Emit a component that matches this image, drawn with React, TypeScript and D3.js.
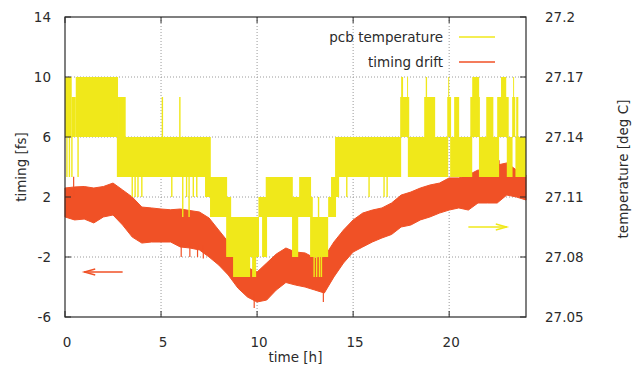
import React from "react";
import * as d3 from "d3";

// timing drift band (fs): lower / upper edge read every half hour
const driftHours = [
  0, 0.5, 1, 1.5, 2, 2.5, 3, 3.5, 4, 4.5, 5, 5.5, 6, 6.5, 7, 7.5, 8, 8.5, 9,
  9.5, 10, 10.5, 11, 11.5, 12, 12.5, 13, 13.5, 14, 14.5, 15, 15.5, 16, 16.5,
  17, 17.5, 18, 18.5, 19, 19.5, 20, 20.5, 21, 21.5, 22, 22.5, 23, 23.5, 24,
];
const driftHigh = [
  2.6, 2.67, 2.7, 2.6, 2.7, 2.93, 2.47, 2.0, 1.33, 1.27, 1.2, 1.15, 1.2, 1.1,
  1.0, 0.6, -0.2, -1.0, -1.8, -2.7, -3.0, -2.4, -1.8, -1.4, -1.67, -1.73,
  -2.07, -2.0, -1.0, -0.2, 0.47, 0.93, 1.13, 1.27, 1.6, 2.13, 2.33, 2.6, 2.8,
  2.93, 3.27, 3.27, 3.47, 3.8, 3.67, 4.13, 4.27, 3.8, 3.47,
];
const driftLow = [
  0.67, 0.47, 0.53, 0.27, 0.67, 0.8, 0.13, -0.67, -1.07, -1.0, -1.0, -1.0,
  -1.33, -1.4, -1.53, -2.0, -2.53, -3.2, -4.07, -4.67, -5.0, -4.87, -4.2,
  -3.7, -3.87, -4.0, -4.2, -4.4, -3.33, -2.4, -1.67, -1.33, -1.0, -0.73, -0.5,
  0.0, 0.13, 0.47, 0.67, 0.93, 1.13, 1.27, 1.13, 1.6, 1.6, 1.6, 2.13, 2.0, 1.8,
];
// single noisy excursions [hour, low, high]
const driftSpikes = [
  [0.45, 2.0, 3.35],
  [6.05, -2.0, -1.0],
  [6.5, -2.0, -1.0],
  [6.9, -2.0, -1.2],
  [7.2, -2.1, -1.2],
  [9.85, -5.4, -4.5],
  [13.45, -5.0, -4.2],
  [22.6, 3.5, 4.45],
];

// pcb temperature: sensor flips between two levels [from h, to h, low, high]
const tempBlocks = [
  [0, 0.35, 27.14, 27.17],
  [0.35, 0.56, 27.14, 27.16],
  [0.56, 2.76, 27.14, 27.17],
  [2.76, 3.16, 27.14, 27.16],
  [2.7, 7.59, 27.12, 27.14],
  [7.29, 8.44, 27.11, 27.12],
  [7.55, 8.65, 27.1, 27.11],
  [8.39, 10.1, 27.08, 27.1],
  [10.26, 10.52, 27.08, 27.1],
  [8.75, 9.64, 27.07, 27.08],
  [9.74, 9.95, 27.07, 27.08],
  [10.45, 11.86, 27.11, 27.12],
  [12.19, 12.81, 27.11, 27.12],
  [13.85, 14.27, 27.11, 27.12],
  [10.07, 12.9, 27.1, 27.11],
  [13.7, 14.11, 27.1, 27.11],
  [11.82, 12.14, 27.08, 27.1],
  [12.76, 13.7, 27.08, 27.1],
  [14.06, 17.5, 27.12, 27.14],
  [17.85, 19.95, 27.12, 27.14],
  [20.05, 21.2, 27.12, 27.14],
  [21.55, 22.6, 27.12, 27.14],
  [23.0, 23.3, 27.12, 27.14],
  [23.45, 24, 27.12, 27.14],
  [17.45, 17.92, 27.14, 27.16],
  [18.7, 19.27, 27.14, 27.16],
  [19.9, 20.1, 27.14, 27.16],
  [20.26, 20.52, 27.14, 27.16],
  [21.1, 21.6, 27.14, 27.16],
  [21.93, 22.3, 27.14, 27.16],
  [22.5, 23.1, 27.14, 27.16],
  [23.28, 23.44, 27.14, 27.16],
  [23.49, 23.6, 27.14, 27.16],
  [17.5, 17.6, 27.16, 27.17],
  [17.81, 17.86, 27.16, 27.17],
  [18.78, 18.85, 27.16, 27.17],
  [19.95, 20.0, 27.16, 27.17],
  [21.2, 21.56, 27.16, 27.17],
  [22.7, 22.97, 27.16, 27.17],
  [23.33, 23.38, 27.16, 27.17],
];
// short one-sample flips [hour, low, high]
const tempSpikes = [
  [0.1, 27.12, 27.14],
  [0.23, 27.12, 27.14],
  [0.36, 27.12, 27.14],
  [0.68, 27.12, 27.14],
  [3.5, 27.11, 27.12],
  [3.65, 27.11, 27.12],
  [3.8, 27.11, 27.12],
  [4.0, 27.11, 27.12],
  [5.56, 27.11, 27.12],
  [6.13, 27.1, 27.12],
  [6.33, 27.11, 27.12],
  [6.46, 27.1, 27.12],
  [6.68, 27.11, 27.12],
  [6.86, 27.11, 27.12],
  [5.07, 27.14, 27.16],
  [5.98, 27.14, 27.16],
  [12.97, 27.07, 27.08],
  [13.1, 27.07, 27.08],
  [13.25, 27.07, 27.08],
  [13.35, 27.07, 27.08],
  [13.2, 27.1, 27.11],
  [14.67, 27.11, 27.12],
  [15.83, 27.11, 27.12],
  [16.61, 27.11, 27.12],
  [16.77, 27.11, 27.12],
];

const xTicks = [0, 5, 10, 15, 20];
const yTicks = [-6, -2, 2, 6, 10, 14];
const y2Ticks = [27.05, 27.08, 27.11, 27.14, 27.17, 27.2];

const W = 642;
const H = 367;
const margin = { top: 17, right: 116, bottom: 50, left: 65 };
const FONT = "'DejaVu Sans', sans-serif";
const YELLOW = "#f0e81a";
const RED = "#f05126";
const INK = "#2b2b2b";

export default function App() {
  const x = d3.scaleLinear().domain([0, 24]).range([margin.left, W - margin.right]);
  const y = d3.scaleLinear().domain([-6, 14]).range([H - margin.bottom, margin.top]);
  const y2 = d3.scaleLinear().domain([27.05, 27.2]).range([H - margin.bottom, margin.top]);

  const [x0, x1] = x.range();
  const [yb, yt] = y.range();

  const band = d3
    .area<number>()
    .x((_, i) => x(driftHours[i]))
    .y0((_, i) => y(driftLow[i]))
    .y1((_, i) => y(driftHigh[i]));

  const fmt2 = (v: number) => (v === 27.2 ? "27.2" : v.toFixed(2));

  return (
    <svg
      width={W}
      height={H}
      style={{ position: "absolute", left: 0, top: 0, background: "#fff" }}
      fontFamily={FONT}
      fontSize={13.5}
    >
      {/* grid */}
      <g stroke="#9a9a9a" strokeDasharray="1,2" strokeWidth={1}>
        {xTicks.slice(1).map((t) => (
          <line key={"gx" + t} x1={x(t)} x2={x(t)} y1={yt} y2={yb} />
        ))}
        {yTicks.slice(1, -1).map((t) => (
          <line key={"gy" + t} x1={x0} x2={x1} y1={y(t)} y2={y(t)} />
        ))}
      </g>

      {/* timing drift */}
      <path d={band(driftHours) ?? ""} fill={RED} stroke={RED} strokeWidth={1} />
      {driftSpikes.map(([t, lo, hi], i) => (
        <line key={"ds" + i} x1={x(t)} x2={x(t)} y1={y(lo)} y2={y(hi)} stroke={RED} strokeWidth={1.2} />
      ))}

      {/* pcb temperature */}
      {tempBlocks.map(([a, b, lo, hi], i) => (
        <rect key={"tb" + i} x={x(a)} y={y2(hi)} width={x(b) - x(a)} height={y2(lo) - y2(hi)} fill={YELLOW} />
      ))}
      {tempSpikes.map(([t, lo, hi], i) => (
        <rect key={"tsp" + i} x={x(t) - 0.7} y={y2(hi)} width={1.4} height={y2(lo) - y2(hi)} fill={YELLOW} />
      ))}

      {/* arrows */}
      <g stroke={RED} strokeWidth={1.3} fill="none">
        <line x1={x(3)} x2={x(1)} y1={y(-3)} y2={y(-3)} />
        <polyline points={`${x(1) + 11},${y(-3) - 3} ${x(1)},${y(-3)} ${x(1) + 11},${y(-3) + 3}`} />
      </g>
      <g stroke={YELLOW} strokeWidth={1.3} fill="none">
        <line x1={x(21)} x2={x(23)} y1={y(0)} y2={y(0)} />
        <polyline points={`${x(23) - 11},${y(0) - 3} ${x(23)},${y(0)} ${x(23) - 11},${y(0) + 3}`} />
      </g>

      {/* border and ticks */}
      <rect x={x0} y={yt} width={x1 - x0} height={yb - yt} fill="none" stroke={INK} strokeWidth={1.2} />
      <g stroke={INK} strokeWidth={1}>
        {xTicks.map((t) => (
          <g key={"tx" + t}>
            <line x1={x(t)} x2={x(t)} y1={yb} y2={yb - 6} />
            <line x1={x(t)} x2={x(t)} y1={yt} y2={yt + 6} />
          </g>
        ))}
        {yTicks.map((t) => (
          <line key={"ty" + t} x1={x0} x2={x0 + 6} y1={y(t)} y2={y(t)} />
        ))}
        {y2Ticks.map((t) => (
          <line key={"ty2" + t} x1={x1} x2={x1 - 6} y1={y2(t)} y2={y2(t)} />
        ))}
      </g>

      {/* tick labels */}
      <g fill={INK}>
        {xTicks.map((t) => (
          <text key={"lx" + t} x={x(t) + 2} y={346.5} textAnchor="middle">
            {t}
          </text>
        ))}
        {yTicks.map((t) => (
          <text key={"ly" + t} x={51} y={y(t)} dy="0.36em" textAnchor="end">
            {t}
          </text>
        ))}
        {y2Ticks.map((t) => (
          <text key={"ly2" + t} x={545} y={y2(t)} dy="0.36em" textAnchor="start">
            {fmt2(t)}
          </text>
        ))}
        <text x={(x0 + x1) / 2} y={362} textAnchor="middle">
          time [h]
        </text>
        <text transform={`translate(21,${(yt + yb) / 2}) rotate(-90)`} dy="0.36em" textAnchor="middle">
          timing [fs]
        </text>
        <text transform={`translate(623,${(yt + yb) / 2 + 2}) rotate(-90)`} dy="0.36em" textAnchor="middle">
          temperature [deg C]
        </text>
      </g>

      {/* legend */}
      <g fill={INK}>
        <text x={443} y={37} dy="0.36em" textAnchor="end">
          pcb temperature
        </text>
        <text x={443} y={62} dy="0.36em" textAnchor="end">
          timing drift
        </text>
      </g>
      <line x1={459} x2={495} y1={37} y2={37} stroke={YELLOW} strokeWidth={1.5} />
      <line x1={459} x2={495} y1={62} y2={62} stroke={RED} strokeWidth={1.5} />
    </svg>
  );
}
